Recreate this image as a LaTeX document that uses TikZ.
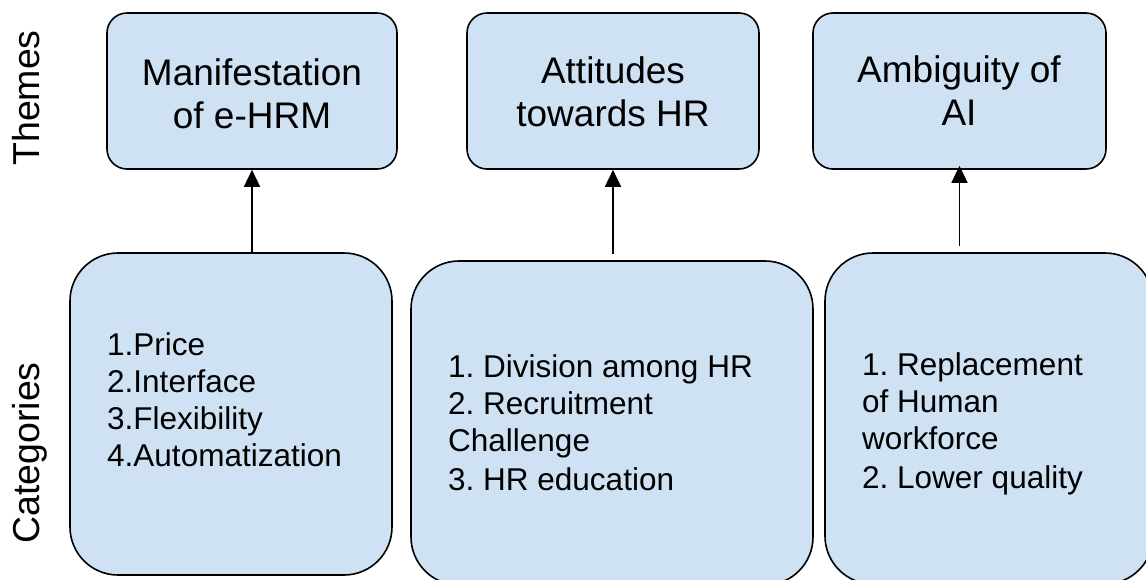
\documentclass[tikz,border=0pt]{standalone}
\usepackage{fontspec}
\setmainfont{Liberation Sans}
\usetikzlibrary{arrows.meta}
\definecolor{boxfill}{RGB}{207,226,243}
\frenchspacing
\begin{document}
\begin{tikzpicture}[x=1pt,y=-1pt,
  themebox/.style={draw=black,line width=1.6pt,fill=boxfill,rounded corners=20pt,inner sep=0pt,minimum height=156pt},
  catbox/.style={draw=black,line width=1.6pt,fill=boxfill,rounded corners=48pt,inner sep=0pt},
  themetext/.style={inner sep=0pt,anchor=base,font=\fontsize{37}{43}\selectfont},
  cattext/.style={inner sep=0pt,anchor=base west,font=\fontsize{31.5}{37}\selectfont},
  sidelabel/.style={inner sep=0pt,anchor=base,rotate=90,font=\fontsize{37.5}{43}\selectfont},
  arr/.style={line width=1.6pt,-{Triangle[width=16pt,length=17pt]}}]
\useasboundingbox (0,0) rectangle (1146,579);
\clip (0,0) rectangle (1146,579);
% theme boxes
\node[themebox,minimum width=290pt] (t1) at (252,91) {};
\node[themebox,minimum width=292pt] (t2) at (613,91) {};
\node[themebox,minimum width=293pt] (t3) at (959.5,91) {};
% category boxes
\node[catbox,minimum width=322pt,minimum height=322pt] (b1) at (231,414) {};
\node[catbox,minimum width=402pt,minimum height=324pt] (b2) at (612,423) {};
\node[catbox,minimum width=328pt,minimum height=331pt] (b3) at (989,418.5) {};
% theme texts
\node[themetext] (tt1) at (252,85) {\begin{tabular}[t]{@{}c@{}}Manifestation\\of e-HRM\end{tabular}};
\node[themetext] (tt2) at (613,83) {\begin{tabular}[t]{@{}c@{}}Attitudes\\towards HR\end{tabular}};
\node[themetext] (tt3) at (959,82) {\begin{tabular}[t]{@{}c@{}}Ambiguity of\\AI\end{tabular}};
% category texts
\node[cattext] (ct1) at (107,355) {\begin{tabular}[t]{@{}l@{}}1.Price\\2.Interface\\3.Flexibility\\4.Automatization\end{tabular}};
\node[cattext] (ct2) at (448,377) {\begin{tabular}[t]{@{}l@{}}1. Division among HR\\2. Recruitment\\Challenge\\[2pt]3. HR education\end{tabular}};
\node[cattext] (ct3) at (862,375) {\begin{tabular}[t]{@{}l@{}}1. Replacement\\of Human\\workforce\\[2pt]2. Lower quality\end{tabular}};
% side labels
\node[sidelabel] (lth) at (39,98) {Themes};
\node[sidelabel] (lca) at (39,453) {Categories};
% arrows
\draw[arr] (t1.south |- b1.north) -- (t1.south);
\draw[arr,shorten <=6pt] (t2.south |- b2.north) -- (t2.south);
\draw[arr,shorten <=6pt,shorten >=-4pt] (t3.south |- b3.north) -- (t3.south);
\end{tikzpicture}
\end{document}
